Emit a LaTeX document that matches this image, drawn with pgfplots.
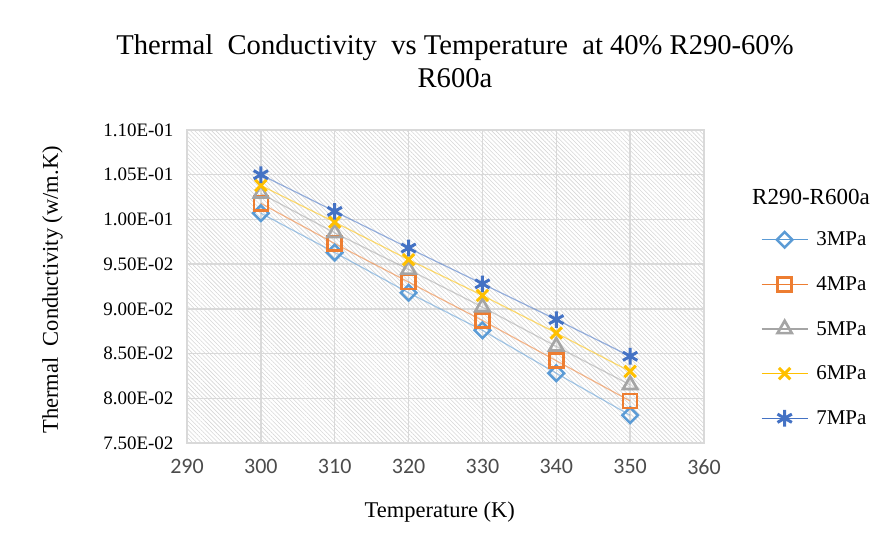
\documentclass[border=0pt]{standalone}
\usepackage{pgfplots}
\pgfplotsset{compat=1.18}
\usepackage{fontspec}
\setmainfont{Liberation Serif}
\newfontfamily\carlito{Carlito}
\usetikzlibrary{patterns.meta}
\definecolor{cA}{HTML}{5B9BD5}
\definecolor{cB}{HTML}{ED7D31}
\definecolor{cC}{HTML}{A5A5A5}
\definecolor{cD}{HTML}{FFC000}
\definecolor{cE}{HTML}{4472C4}
\definecolor{gridc}{HTML}{D9D9D9}
\begin{document}
\begin{tikzpicture}[x=1pt,y=1pt]
\useasboundingbox (0,0) rectangle (876,547);
\node[font=\fontsize{28.6}{33}\selectfont, align=center] at (455,486) {Thermal\ \ Conductivity\ \ vs Temperature\ \ at 40\% R290-60\%\\R600a};
\begin{axis}[
  at={(187pt,104pt)}, anchor=south west, scale only axis,
  width=517pt, height=313pt,
  xmin=290, xmax=360, ymin=0.075, ymax=0.11,
  xtick={290,300,310,320,330,340,350,360},
  ytick={0.075,0.08,0.085,0.09,0.095,0.1,0.105,0.11},
  yticklabels={7.50E-02,8.00E-02,8.50E-02,9.00E-02,9.50E-02,1.00E-01,1.05E-01,1.10E-01},
  /pgf/number format/assume math mode=true,
  xticklabel style={font=\carlito\fontsize{22}{22}\selectfont, text=black!70, yshift=-13pt},
  yticklabel style={font=\fontsize{19}{19}\selectfont, xshift=-10pt},
  major tick length=0pt,
  scaled y ticks=false,
  grid=major,
  major grid style={draw=gridc, line width=1.3pt},
  axis line style={draw=gridc, line width=1.3pt},
  axis background/.style={pattern={Lines[angle=-45,distance=3pt,line width=0.6pt]}, pattern color=black!16},
  xlabel={Temperature (K)},
  ylabel={Thermal\ \ Conductivity (w/m.K)},
  xlabel style={font=\fontsize{22.5}{22.5}\selectfont, at={(axis description cs:0.489,-0.22)}, anchor=center},
  ylabel style={font=\fontsize{22.5}{22.5}\selectfont, at={(axis description cs:-0.26,0.489)}, anchor=center, rotate=0},
  legend style={at={(axis description cs:1.110,0.681)}, anchor=north west, draw=none, fill=none,
    font=\fontsize{21}{21}\selectfont, row sep=25.3pt, inner sep=0pt,
    /tikz/every odd column/.append style={column sep=6pt}},
  legend cell align=left,
  legend image code/.code={\draw[mark repeat=2,mark phase=2, draw opacity=1] plot coordinates {(0pt,0pt) (23pt,0pt) (46pt,0pt)};},
  clip=false,
]
\addplot[color=cA, line width=1.2pt, draw opacity=0.55, mark=square, mark size=5.5pt,
  mark options={rotate=45, draw opacity=1, fill=white, line width=2.5pt}]
  coordinates {(300,0.1007) (310,0.0963) (320,0.0918) (330,0.0876) (340,0.0828) (350,0.0781)};
\addlegendentry{3MPa}
\addplot[color=cB, line width=1.2pt, draw opacity=0.55, mark=square, mark size=7pt,
  mark options={draw opacity=1, fill=white, line width=2.7pt}]
  coordinates {(300,0.1018) (310,0.0973) (320,0.0930) (330,0.0887) (340,0.0842) (350,0.0797)};
\addlegendentry{4MPa}
\addplot[color=cC, line width=1.2pt, draw opacity=0.55, mark=triangle, mark size=8.2pt,
  mark options={draw opacity=1, fill=white, line width=2.7pt}]
  coordinates {(300,0.1029) (310,0.0985) (320,0.0944) (330,0.0902) (340,0.0858) (350,0.0815)};
\addlegendentry{5MPa}
\addplot[color=cD, line width=1.2pt, draw opacity=0.55, mark=x, mark size=8pt,
  mark options={draw opacity=1, line width=3pt}]
  coordinates {(300,0.1038) (310,0.0997) (320,0.0955) (330,0.0915) (340,0.0873) (350,0.0830)};
\addlegendentry{6MPa}
\addplot[color=cE, line width=1.2pt, draw opacity=0.55, mark=asterisk, mark size=8.3pt,
  mark options={draw opacity=1, line width=3pt}]
  coordinates {(300,0.1050) (310,0.1009) (320,0.0968) (330,0.0928) (340,0.0888) (350,0.0847)};
\addlegendentry{7MPa}
\end{axis}
\node[font=\fontsize{23}{23}\selectfont] at (811,350) {R290-R600a};
\end{tikzpicture}
\end{document}
